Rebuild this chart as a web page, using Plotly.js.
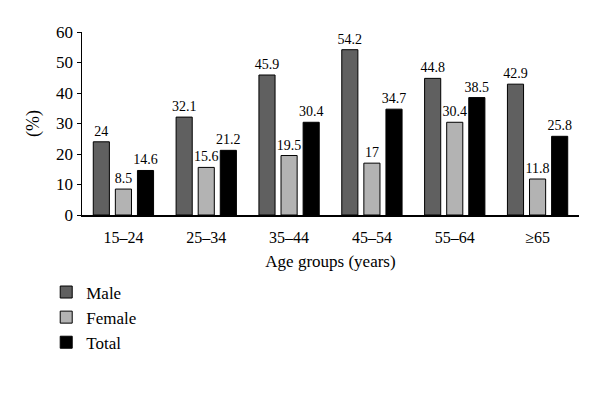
<!DOCTYPE html>
<html>
<head>
<meta charset="utf-8">
<script src="https://cdn.plot.ly/plotly-3.0.1.min.js"></script>
<style>html,body{margin:0;padding:0;background:#fff;}#chart{width:600px;height:396px;}</style>
</head>
<body>
<div id="chart"></div>
<script>
const categories = ["15–24", "25–34", "35–44", "45–54", "55–64", "≥65"];
const male = [24, 32.1, 45.9, 54.2, 44.8, 42.9];
const female = [8.5, 15.6, 19.5, 17, 30.4, 11.8];
const total = [14.6, 21.2, 30.4, 34.7, 38.5, 25.8];
const yTicks = [0, 10, 20, 30, 40, 50, 60];

const FONT = "Liberation Serif, Times New Roman, serif";

function series(name, vals, color) {
  return {
    type: "bar",
    name: name,
    x: categories,
    y: vals,
    text: vals.map(v => String(v)),
    textposition: "outside",
    constraintext: "none",
    cliponaxis: false,
    textfont: {family: FONT, size: 14, color: "#000"},
    marker: {color: color, line: {color: "#000", width: 1}},
    hoverinfo: "none"
  };
}

const data = [
  series("Male", male, "#606060"),
  series("Female", female, "#b3b3b3"),
  series("Total", total, "#000000")
];

const layout = {
  width: 600,
  height: 396,
  margin: {l: 82, r: 21, t: 32, b: 181},
  paper_bgcolor: "#fff",
  plot_bgcolor: "#fff",
  font: {family: FONT, color: "#000"},
  barmode: "group",
  bargap: 0.2,
  bargroupgap: 0.27,
  showlegend: true,
  legend: {
    x: -0.072, y: -0.325, xanchor: "left", yanchor: "top",
    font: {family: FONT, size: 17, color: "#000"},
    bgcolor: "rgba(0,0,0,0)",
    tracegroupgap: 0,
    itemgap: 0
  },
  xaxis: {
    type: "category",
    showline: true, linecolor: "#000", linewidth: 1.5,
    ticks: "", showgrid: false, zeroline: false,
    ticklabelstandoff: 7,
    tickfont: {family: FONT, size: 16, color: "#000"},
    title: {text: "Age groups (years)", font: {family: FONT, size: 17, color: "#000"}, standoff: 10}
  },
  yaxis: {
    range: [0, 60],
    tickvals: yTicks,
    ticktext: yTicks.map(String),
    showline: true, linecolor: "#000", linewidth: 1.5,
    ticks: "outside", ticklen: 4, tickcolor: "#000",
    showgrid: false, zeroline: false,
    tickfont: {family: FONT, size: 17, color: "#000"},
    title: {text: "(%)", font: {family: FONT, size: 18, color: "#000"}, standoff: 12}
  }
};

Plotly.newPlot("chart", data, layout, {displayModeBar: false, staticPlot: true});
</script>
</body>
</html>
